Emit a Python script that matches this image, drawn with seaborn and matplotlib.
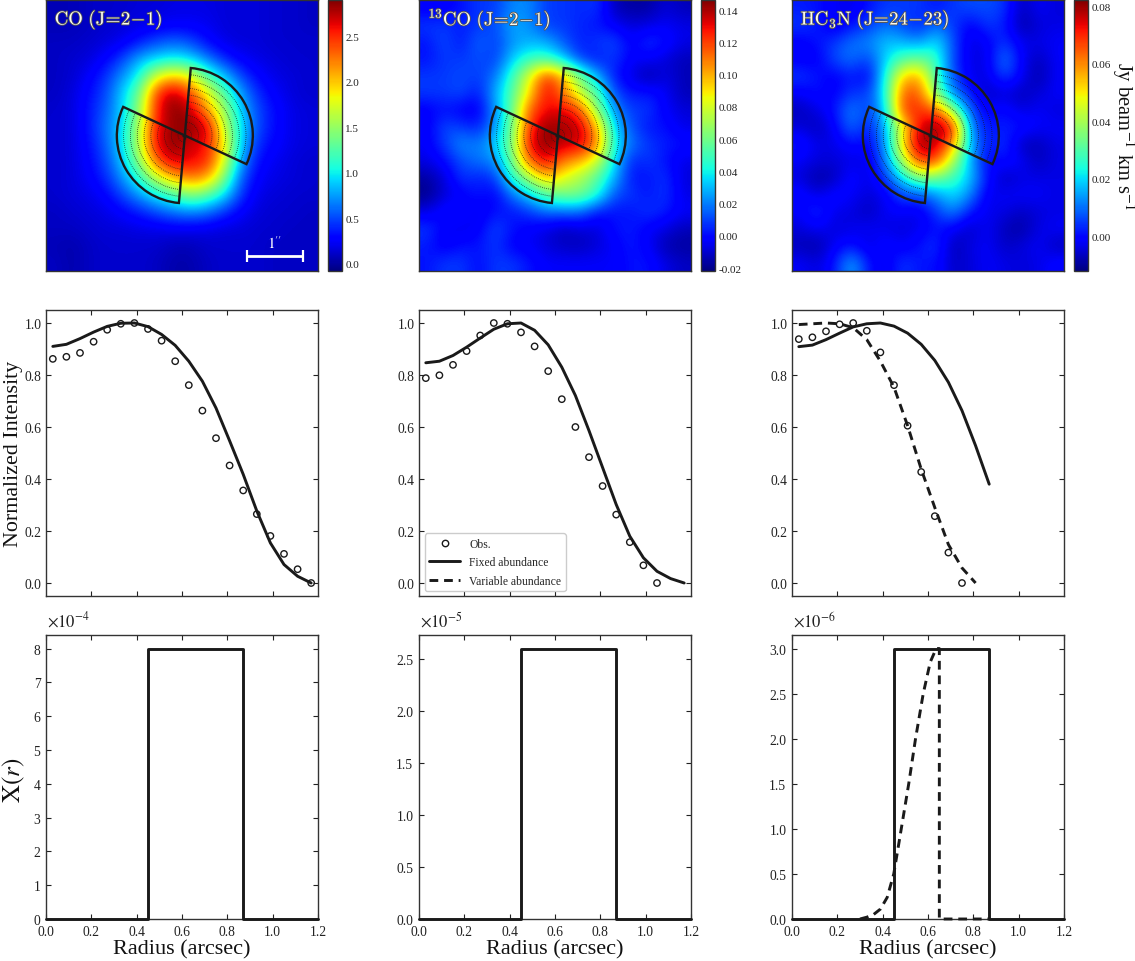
import numpy as np
import pandas as pd
import matplotlib
matplotlib.use("Agg")
import matplotlib.pyplot as plt
import matplotlib.patheffects as pe
from matplotlib.patches import Wedge, Arc
from matplotlib.lines import Line2D
import seaborn as sns

# colour-scale position (percent of each colour bar)
map_co = [
[ 5, 5, 6, 7, 7, 8, 8, 9, 9, 9, 8, 8, 8, 7, 7, 6],
[ 5, 5, 6, 7, 8, 9,10,11,11,10, 8, 8, 8, 7, 7, 6],
[ 6, 6, 7, 8,10,15,20,23,20,13, 9, 8, 8, 7, 7, 7],
[ 6, 7, 8,12,19,30,34,37,34,25,16,11, 9, 8, 7, 7],
[ 6, 7,11,17,27,38,62,70,64,45,32,19,12, 9, 8, 7],
[ 6, 8,13,19,33,48,86,97,84,64,45,28,16,11, 8, 7],
[ 7, 8,14,21,33,52,88,100,95,74,54,32,19,13, 9, 8],
[ 7, 8,14,23,34,56,90,98,100,94,57,35,19,13, 9, 8],
[ 7, 8,13,21,35,57,92,100,92,90,66,32,16,12, 9, 8],
[ 7, 8,12,19,32,52,82,94,91,88,62,28,13,10, 8, 7],
[ 7, 8,11,16,27,40,59,72,79,74,50,21,11, 9, 8, 7],
[ 7, 8, 9,12,19,28,36,43,52,46,35,17, 9, 8, 7, 7],
[ 6, 7, 8, 9,12,15,20,24,26,24,17,11, 8, 7, 7, 6],
[ 6, 6, 7, 8, 8, 9, 9,10,10, 9, 8, 8, 7, 7, 6, 6],
[ 5, 4, 6, 7, 7, 7, 7, 5, 5, 7, 7, 7, 7, 6, 6, 6],
[ 6, 4, 6, 7, 7, 7, 6, 4, 4, 6, 7, 7, 7, 6, 6, 6],
]
map_13co = [
[11,11,14,18,18,26,26,18,18,16,18, 5, 3, 3, 8, 5],
[18,18,15,18,20,30,27,18,18,16,14,11, 8, 9,11, 9],
[14,20,14,23,18,27,30,30,21,15,18,20,11,18,14, 9],
[14,18,18,20,18,33,42,42,33,18,14,18,11,11, 8, 5],
[18,18,20,18,24,42,62,88,72,50,30,14, 9, 3, 9, 5],
[18,18,20,14,30,45,67,92,78,58,45,20,14,15,11, 5],
[11,14,11,10,27,47,82,90,92,84,50,27,18,18,11, 8],
[11,20,18,15,27,48,86,99,97,94,72,33,20,14,14, 9],
[11,18,27,24,33,50,92,100,94,94,78,37,24,18,15,14],
[ 9,13,20,24,26,48,82,92,78,72,60,35,15,18,14, 9],
[ 3, 8,18,15,18,40,55,72,62,55,45,30,14,14,18, 8],
[ 1, 8,11,15,11,24,33,45,50,50,40,20,18,14,18, 9],
[ 9,14,14, 9,14,14,18,23,23,23,14,14,14,18,15,11],
[18,11, 9,11,20,14,11, 9, 5, 8, 8,14,15,11, 9, 5],
[15,10,14,14,18,11,11, 8, 6, 5, 8,11,15,11, 4, 3],
[14,18,18,13,18,18,14,11,11,11,11,11,14,14, 9, 6],
]
map_hc3n = [
[15,14,11, 9,14,18,18,18,14,18,20,20,18, 5,11, 8],
[18,15, 9,14,18,24,20,15,24,18,11,18,15, 3, 8, 9],
[11,14,18,24,26,32,30,27,36,20, 8,11,18,10, 9,11],
[11,11,20,24,18,33,45,48,42,18, 9, 9,26,11, 5,11],
[18,14,11,15,11,38,70,74,42,20, 9, 9,20,11, 3,11],
[11,14,11,18,18,38,82,82,50,24,15, 5, 8, 5, 8,11],
[ 5, 9,14,26,18,33,86,86,82,50,20,11,14, 8,11, 8],
[ 8, 5,11,24,14,30,62,92,100,92,24,14,15,15,11,11],
[15, 9, 9,14,11,27,67,100,94,74,30,14,18, 5, 5, 9],
[11, 8, 8, 9, 9,24,55,88,84,55,30,11,14,11, 5, 9],
[ 8, 3, 5,14, 8,18,35,50,48,42,32,14, 5, 9, 9, 9],
[14, 8,14,11, 8,10,20,20,27,35,26, 9,11,11,11, 9],
[11,18, 9, 9, 5,11,11, 9,18,26,14,10, 9, 6, 8, 9],
[ 8,11, 8, 9,11, 9, 8,10,14,11, 6,11, 5, 3, 9,11],
[ 5, 3,11,14, 8,14,10,14,18, 4, 9,11, 6, 8,11, 5],
[11, 8,14,30,14, 9,18,14,14, 6, 8,11, 9, 8, 9,13],
]
map_titles = [r"$\mathrm{CO\ (J\!=\!2\!-\!1)}$",
              r"$\mathrm{^{13}CO\ (J\!=\!2\!-\!1)}$",
              r"$\mathrm{HC_3N\ (J\!=\!24\!-\!23)}$"]
map_limits = [(-0.08, 2.90), (-0.0218, 0.1462), (-0.0122, 0.0823)]
cbar_ticks = [[0, 0.5, 1.0, 1.5, 2.0, 2.5],
              [-0.02, 0, 0.02, 0.04, 0.06, 0.08, 0.10, 0.12, 0.14],
              [0, 0.02, 0.04, 0.06, 0.08]]
cbar_formats = ["%.1f", "%.2f", "%.2f"]
wedge_angles = [(-25, 85), (155, 265)]
wedge_radius = 1.2
ring_radii = [0.12, 0.24, 0.36, 0.48, 0.60, 0.72, 0.84, 0.96, 1.08]

radius_obs = [0.03, 0.09, 0.15, 0.21, 0.27, 0.33, 0.39, 0.45, 0.51, 0.57,
              0.63, 0.69, 0.75, 0.81, 0.87, 0.93, 0.99, 1.05, 1.11, 1.17]
obs_co = [.862, .870, .885, .928, .974, .997, 1.0, .977, .932, .853,
          .761, .663, .557, .452, .356, .265, .181, .112, .053, 0.0]
fixed_co = [.910, .918, .940, .965, .987, .999, 1.0, .986, .956, .914,
            .853, .776, .673, .547, .418, .277, .154, .071, .026, 0.0]
obs_13co = [.788, .799, .839, .892, .952, 1.0, .997, .964, .910, .815,
            .707, .600, .484, .373, .263, .157, .068, 0.0]
fixed_13co = [.847, .853, .875, .907, .942, .976, .997, 1.0, .972, .916,
              .830, .721, .586, .444, .302, .180, .097, .045, .017, 0.0]
obs_hc3n = [.938, .945, .968, .995, 1.0, .970, .887, .761, .605, .427, .257, .117, 0.0]
fixed_hc3n = [.909, .915, .936, .961, .985, .997, 1.0, .988, .961, .918,
              .856, .772, .663, .528, .380]
var_hc3n = [.994, .997, 1.0, .997, .982, .936, .853, .753, .605, .438,
            .290, .148, .058, 0.0]

step_r = [0.0, 0.45, 0.45, 0.87, 0.87, 1.2]
step_shape = [0, 0, 1, 1, 0, 0]
peaks = [8.0, 2.6, 3.0]
abund_exp = [-4, -5, -6]
var_r = [0.30, 0.33, 0.36, 0.39, 0.42, 0.449, 0.482, 0.515, 0.545, 0.579,
         0.61, 0.636, 0.65, 0.65, 0.87]
var_x = [0, 0.02, 0.05, 0.11, 0.24, 0.50, 1.0, 1.5, 2.0, 2.5,
         2.85, 3.0, 3.0, 0, 0]

sns.set_theme(style="white")
plt.rcParams.update({
    "font.family": ["Liberation Serif", "DejaVu Serif"],
    "mathtext.fontset": "stix",
    "axes.edgecolor": "#333333",
    "axes.linewidth": 1.0,
    "xtick.color": "#222222", "ytick.color": "#222222",
})

W, H = 1135, 962
fig = plt.figure(figsize=(W / 100, H / 100), dpi=100)


def px_axes(left, top, right, bottom):
    return fig.add_axes([left / W, 1 - bottom / H, (right - left) / W, (bottom - top) / H])


lefts = [46, 419, 792]
jet = plt.get_cmap("jet")
dash = (0, (3, 2))

# Row 1: maps
for i, (grid, lims) in enumerate(zip([map_co, map_13co, map_hc3n], map_limits)):
    ax = px_axes(lefts[i], 1, lefts[i] + 272, 272)
    vals = lims[0] + np.array(grid) / 100 * (lims[1] - lims[0])
    im = ax.imshow(vals, cmap=jet, vmin=lims[0], vmax=lims[1], origin="upper",
                   extent=(-2.4, 2.4, -2.4, 2.4), interpolation="bicubic", aspect="auto")
    ax.set_xticks([])
    ax.set_yticks([])
    cx, cy = 0.05, 0.0
    for a0, a1 in wedge_angles:
        for r in ring_radii:
            ax.add_patch(Arc((cx, cy), 2 * r, 2 * r, theta1=a0, theta2=a1, color="k", lw=0.55, ls=":"))
        ax.add_patch(Wedge((cx, cy), wedge_radius, a0, a1, fill=False, ec="k", lw=1.7))
    ax.plot([cx], [cy], marker="+", color="k", ms=5, mew=1)
    ax.text(0.032, 0.928, map_titles[i], transform=ax.transAxes, color="#fbfbf0", fontsize=13.5,
            va="center", ha="left", math_fontfamily="cm",
            path_effects=[pe.withStroke(linewidth=1.2, foreground="#555555")])
    if i == 0:
        ax.errorbar([1.64], [-2.14], xerr=[0.5], color="white", capsize=4, lw=2, capthick=1.6)
        ax.text(1.64, -1.9, r"$1^{\prime\prime}$", color="white", fontsize=11, ha="center", va="center")
    cax = px_axes(lefts[i] + 282, 1, lefts[i] + 296, 272)
    cb = fig.colorbar(im, cax=cax, format=cbar_formats[i])
    cb.set_ticks(cbar_ticks[i])
    cb.ax.tick_params(direction="in", length=3, width=0.8, labelsize=8.0, pad=2.5, color="k")
    cb.outline.set_edgecolor("#333333")

fig.text(1123 / W, 1 - 136 / H, r"Jy beam$^{-1}$ km s$^{-1}$", rotation=270,
         fontsize=14.8, ha="center", va="center", color="#111111")

# Row 2: intensity profiles
obs_sets = [obs_co, obs_13co, obs_hc3n]
fixed_sets = [fixed_co, fixed_13co, fixed_hc3n]
for i in range(3):
    ax = px_axes(lefts[i], 311, lefts[i] + 272, 597)
    sns.lineplot(x=radius_obs[:len(fixed_sets[i])], y=fixed_sets[i], color="k", lw=2.1, ax=ax,
                 estimator=None, sort=False)
    if i == 2:
        sns.lineplot(x=radius_obs[:len(var_hc3n)], y=var_hc3n, color="k", lw=2.1, linestyle=dash,
                     ax=ax, estimator=None, sort=False)
    sns.scatterplot(x=radius_obs[:len(obs_sets[i])], y=obs_sets[i], marker="o", s=21,
                    facecolors="none", edgecolor="k", linewidth=1.0, ax=ax, zorder=3)
    ax.set_xlim(0, 1.2)
    ax.set_ylim(-0.05, 1.05)
    ax.set_xticks(np.arange(0.2, 1.2, 0.2))
    ax.set_xticklabels([])
    ax.set_yticks(np.arange(0, 1.01, 0.2))
    ax.tick_params(direction="in", length=3.5, width=0.8, top=True, right=True, left=True,
                   bottom=True, labelsize=9.8, pad=3)
    if i == 1:
        handles = [Line2D([], [], ls="none", marker="o", mfc="none", mec="k", ms=4.6, mew=1.0),
                   Line2D([], [], color="k", lw=2.1),
                   Line2D([], [], color="k", lw=2.1, ls=dash)]
        ax.legend(handles, ["Obs.", "Fixed abundance", "Variable abundance"], fontsize=8.4,
                  loc="lower left", bbox_to_anchor=(0.004, 0.0), frameon=True, framealpha=1,
                  edgecolor="#cccccc", borderaxespad=0.4, handlelength=2.6, labelspacing=0.55)

fig.text(14 / W, 1 - 454 / H, "Normalized Intensity", rotation=90, fontsize=15.8,
         ha="center", va="center", color="#111111")

# Row 3: abundance profiles
for i in range(3):
    ax = px_axes(lefts[i], 636, lefts[i] + 272, 920)
    sns.lineplot(x=step_r, y=[s * peaks[i] for s in step_shape], color="k", lw=2.1, ax=ax,
                 estimator=None, sort=False, clip_on=False, zorder=3)
    if i == 2:
        sns.lineplot(x=var_r, y=var_x, color="k", lw=2.1, linestyle=dash, ax=ax,
                     estimator=None, sort=False, clip_on=False, zorder=3)
    ax.set_xlim(0, 1.2)
    ax.set_ylim(0, peaks[i] * 1.05)
    ax.set_xticks(np.arange(0, 1.21, 0.2))
    ax.set_yticks(np.arange(0, 8.01, 1.0) if i == 0 else np.arange(0, peaks[i] + 0.01, 0.5))
    if i == 0:
        ax.set_yticklabels([str(v) for v in range(9)])
    ax.tick_params(direction="in", length=3.5, width=0.8, top=True, right=True, left=True,
                   bottom=True, labelsize=9.8, pad=3)
    ax.tick_params(axis="x", pad=4.5)
    ax.tick_params(axis="y", pad=4)
    ax.set_xlabel("Radius (arcsec)", fontsize=16, labelpad=1, color="#111111")
    ax.text(0.005, 1.018, r"$\times 10^{%d}$" % abund_exp[i], transform=ax.transAxes,
            fontsize=12, ha="left", va="bottom", color="#222222")

fig.text(14 / W, 1 - 780 / H, r"$\mathrm{X}(r)$", rotation=90, fontsize=18, ha="center", va="center",
         color="#111111")

fig.savefig("out.png", dpi=100)
